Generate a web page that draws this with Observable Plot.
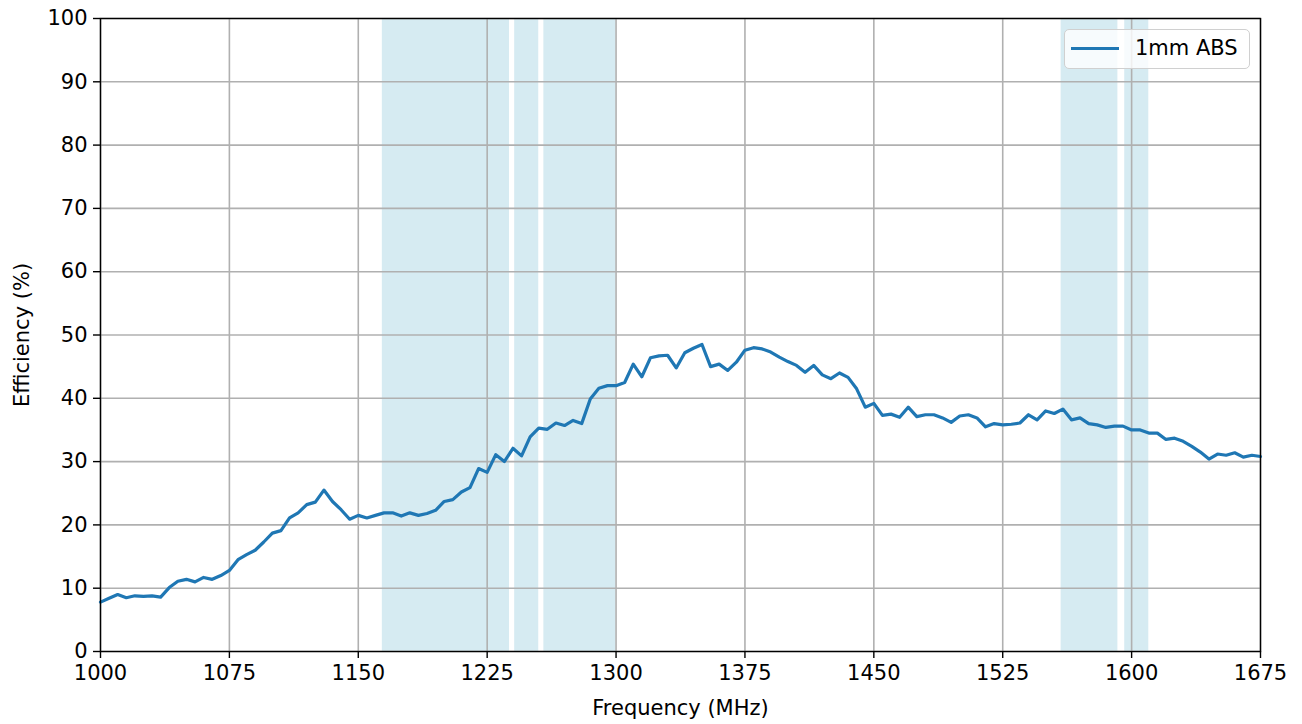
<!DOCTYPE html>
<html>
<head>
<meta charset="utf-8">
<script src="https://cdn.jsdelivr.net/npm/d3@7"></script>
<script src="https://cdn.jsdelivr.net/npm/@observablehq/plot@0.6"></script>
<style>
  html, body { margin: 0; padding: 0; background: #fff; }
  #wrap { position: relative; width: 1302px; height: 724px; font-family: "DejaVu Sans", sans-serif; }
  #legend { position: absolute; left: 1064px; top: 29px; width: 184px; height: 38px;
    border: 1px solid #d0d0d0; border-radius: 5px; background: rgba(255,255,255,0.8);
    box-sizing: content-box; }
  #legend .sw { position: absolute; left: 6px; top: 17px; width: 48px; height: 3px; background: #1f77b4; }
  #legend .lbl { position: absolute; left: 70px; top: 6px; font-size: 21px; line-height: 25px; color: #000; }
</style>
</head>
<body>
<div id="wrap"></div>
<script>
const seriesName = "1mm ABS";
const freq = [
  1000,1005,1010,1015,1020,1025,1030,1035,1040,1045,1050,1055,1060,1065,1070,1075,1080,1085,1090,1095,
  1100,1105,1110,1115,1120,1125,1130,1135,1140,1145,1150,1155,1160,1165,1170,1175,1180,1185,1190,1195,
  1200,1205,1210,1215,1220,1225,1230,1235,1240,1245,1250,1255,1260,1265,1270,1275,1280,1285,1290,1295,
  1300,1305,1310,1315,1320,1325,1330,1335,1340,1345,1350,1355,1360,1365,1370,1375,1380,1385,1390,1395,
  1400,1405,1410,1415,1420,1425,1430,1435,1440,1445,1450,1455,1460,1465,1470,1475,1480,1485,1490,1495,
  1500,1505,1510,1515,1520,1525,1530,1535,1540,1545,1550,1555,1560,1565,1570,1575,1580,1585,1590,1595,
  1600,1605,1610,1615,1620,1625,1630,1635,1640,1645,1650,1655,1660,1665,1670,1675
];
const efficiency = [
  7.8,8.4,9.0,8.5,8.8,8.7,8.8,8.6,10.1,11.1,11.4,11.0,11.7,11.4,12.0,12.8,14.5,15.3,16.0,17.3,
  18.7,19.1,21.1,21.9,23.2,23.6,25.5,23.7,22.4,20.9,21.5,21.1,21.5,21.9,21.9,21.4,21.9,21.5,21.8,22.3,
  23.7,24.0,25.2,25.9,28.9,28.3,31.1,30.0,32.1,30.9,33.9,35.3,35.1,36.1,35.7,36.5,36.0,39.9,41.6,42.0,
  42.0,42.5,45.4,43.4,46.4,46.7,46.8,44.8,47.2,47.9,48.5,45.0,45.4,44.4,45.7,47.6,48.0,47.8,47.3,46.5,
  45.8,45.2,44.1,45.2,43.7,43.1,44.0,43.3,41.5,38.6,39.2,37.3,37.5,37.0,38.6,37.1,37.4,37.4,36.9,36.2,
  37.2,37.4,36.9,35.5,36.0,35.8,35.9,36.1,37.4,36.6,38.0,37.6,38.3,36.6,36.9,36.0,35.8,35.4,35.6,35.6,
  35.0,35.0,34.5,34.5,33.5,33.7,33.2,32.4,31.5,30.4,31.2,31.0,31.4,30.7,31.0,30.8
];
const bandStart = [1164, 1241, 1258, 1559, 1596];
const bandEnd   = [1238, 1255, 1300, 1592, 1610];
const xTicks = [1000,1075,1150,1225,1300,1375,1450,1525,1600,1675];
const yTicks = [0,10,20,30,40,50,60,70,80,90,100];

const data = freq.map((f, i) => ({f, v: efficiency[i]}));
const bands = bandStart.map((s, i) => ({s, e: bandEnd[i]}));

const chart = Plot.plot({
  width: 1302,
  height: 724,
  marginLeft: 100,
  marginRight: 42,
  marginTop: 18,
  marginBottom: 73,
  style: {fontFamily: "DejaVu Sans, sans-serif", fontSize: "21px", color: "#000", background: "#fff"},
  x: {domain: [1000, 1675]},
  y: {domain: [0, 100]},
  marks: [
    Plot.rect(bands, {x1: "s", x2: "e", fill: "#add8e6", fillOpacity: 0.5}),
    Plot.gridX(xTicks, {stroke: "#b0b0b0", strokeOpacity: 1, strokeWidth: 1.6}),
    Plot.gridY(yTicks, {stroke: "#b0b0b0", strokeOpacity: 1, strokeWidth: 1.6}),
    Plot.line(data, {x: "f", y: "v", stroke: "#1f77b4", strokeWidth: 3.2}),
    Plot.frame({stroke: "#000", strokeWidth: 1.4}),
    Plot.axisX(xTicks, {tickSize: 7, tickPadding: 7, strokeWidth: 1.4, label: "Frequency (MHz)", labelAnchor: "center", labelOffset: 63, labelArrow: "none", tickFormat: d => String(d)}),
    Plot.axisY(yTicks, {tickSize: 7, tickPadding: 6, strokeWidth: 1.4, label: "Efficiency (%)", labelAnchor: "center", labelOffset: 86, labelArrow: "none", tickFormat: d => String(d)})
  ]
});
const wrap = document.getElementById("wrap");
wrap.appendChild(chart);
const lg = document.createElement("div");
lg.id = "legend";
lg.innerHTML = '<div class="sw"></div><div class="lbl"></div>';
lg.querySelector(".lbl").textContent = seriesName;
wrap.appendChild(lg);
</script>
</body>
</html>
